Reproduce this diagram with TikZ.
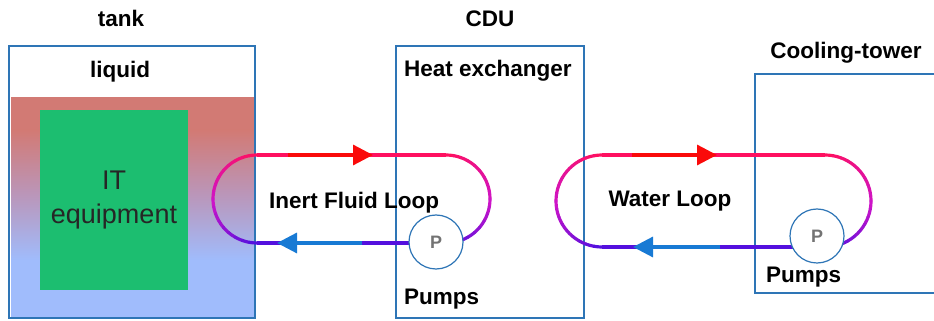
\documentclass[tikz,border=0pt]{standalone}
\usepackage{fontspec}
\setmainfont{Liberation Sans}
\usepackage{tikz}
\usetikzlibrary{calc}
\usetikzlibrary{positioning}
\usetikzlibrary{arrows.meta}

\definecolor{boxblue}{RGB}{46,117,182}
\definecolor{tankred}{RGB}{210,122,116}
\definecolor{tankmid}{RGB}{186,150,186}
\definecolor{tankblue}{RGB}{160,188,252}
\definecolor{itgreen}{RGB}{28,190,112}
\definecolor{looptop}{RGB}{255,16,96}
\definecolor{loopmid}{RGB}{205,20,200}
\definecolor{loopbot}{RGB}{84,16,222}
\definecolor{arrred}{RGB}{250,10,10}
\definecolor{arrblue}{RGB}{24,122,212}

\tikzset{
    unitbox/.style={rectangle, draw=boxblue, line width=2pt, inner sep=0pt},
    lbl/.style={font=\fontsize{22.5}{27}\selectfont\bfseries, inner sep=0pt},
    pipe/.style={line width=3.2pt},
    pump/.style={circle, draw=boxblue, line width=1.2pt, fill=white, minimum size=54pt, inner sep=0pt, font=\fontsize{18}{18}\selectfont\bfseries, text=black!55},
    flowtip/.style={-{Triangle[length=20pt,width=20pt]}}
}

\begin{document}
\begin{tikzpicture}[x=1pt, y=1pt]
    \useasboundingbox (0,0) rectangle (934,321);

    % tank with liquid
    \fill[tankred] (11,191) rectangle (254,224);
    \shade[top color=tankred, bottom color=tankblue, middle color=tankmid] (11,61) rectangle (254,191);
    \fill[tankblue] (11,4) rectangle (254,61);
    \node[fill=itgreen, minimum width=148pt, minimum height=180pt, inner sep=0pt] (itbox) at (114,121) {};
    \node[align=center, font=\fontsize{27}{34}\selectfont, text=black!85, inner sep=0pt] (itlbl) at (itbox.center) {IT\\equipment};
    \node[unitbox, minimum width=246pt, minimum height=272pt] (tank) at (132,139) {};
    \node[lbl, anchor=base] (tanklbl) at (121,294) {tank};
    \node[lbl, anchor=base] (liquidlbl) at (120,243) {liquid};

    % CDU
    \node[unitbox, minimum width=188pt, minimum height=272pt] (cdu) at (490,139) {};
    \node[lbl, anchor=base] (cdulbl) at (490,294) {CDU};
    \node[lbl, anchor=base west] (hexlbl) at (404,244) {Heat exchanger};
    \node[lbl, anchor=base west] (pumpslblA) at (404,16) {Pumps};

    % cooling tower, cut at the right edge
    \draw[draw=boxblue, line width=2pt] (934,247) -- (755,247) -- (755,28) -- (934,28);
    \node[lbl, anchor=base] (towerlbl) at (846,262) {Cooling-tower};
    \node[lbl, anchor=base west] (pumpslblB) at (766,38) {Pumps};

    % inert fluid loop
    \coordinate (LA) at (257,122);
    \coordinate (RA) at (446,122);
    \foreach \i in {0,...,17}{
        \ifnum\i<9
            \pgfmathtruncatemacro\pc{100*\i/9}
            \edef\segc{loopmid!\pc!looptop}
        \else
            \pgfmathtruncatemacro\pc{100*(\i-9)/8}
            \edef\segc{loopbot!\pc!loopmid}
        \fi
        \draw[pipe, line cap=round, draw=\segc] ($(LA)+(90+10*\i:44)$) arc[start angle=90+10*\i, delta angle=10, radius=44];
        \draw[pipe, line cap=round, draw=\segc] ($(RA)+(90-10*\i:44)$) arc[start angle=90-10*\i, delta angle=-10, radius=44];
    }
    \draw[pipe, draw=looptop] ($(LA)+(0,44)$) -- ($(RA)+(0,44)$);
    \draw[pipe, draw=loopbot] ($(LA)+(0,-44)$) -- ($(RA)+(0,-44)$);
    \coordinate (redAs) at (288,166);
    \coordinate (redAt) at (373,166);
    \coordinate (blueAs) at (362,78);
    \coordinate (blueAt) at (277,78);
    \draw[pipe, flowtip, draw=arrred, fill=arrred] (redAs) -- (redAt);
    \draw[pipe, flowtip, draw=arrblue, fill=arrblue] (blueAs) -- (blueAt);
    \node[pump] (pumpA) at (436,79) {P};
    \node[lbl, anchor=base] (inertlbl) at (354,112) {Inert Fluid Loop};

    % water loop
    \coordinate (LB) at (602,120);
    \coordinate (RB) at (825,120);
    \foreach \i in {0,...,17}{
        \ifnum\i<9
            \pgfmathtruncatemacro\pc{100*\i/9}
            \edef\segc{loopmid!\pc!looptop}
        \else
            \pgfmathtruncatemacro\pc{100*(\i-9)/8}
            \edef\segc{loopbot!\pc!loopmid}
        \fi
        \draw[pipe, line cap=round, draw=\segc] ($(LB)+(90+10*\i:46)$) arc[start angle=90+10*\i, delta angle=10, radius=46];
        \draw[pipe, line cap=round, draw=\segc] ($(RB)+(90-10*\i:46)$) arc[start angle=90-10*\i, delta angle=-10, radius=46];
    }
    \draw[pipe, draw=looptop] ($(LB)+(0,46)$) -- ($(RB)+(0,46)$);
    \draw[pipe, draw=loopbot] ($(LB)+(0,-46)$) -- ($(RB)+(0,-46)$);
    \coordinate (redBs) at (632,166);
    \coordinate (redBt) at (717,166);
    \coordinate (blueBs) at (720,74);
    \coordinate (blueBt) at (633,74);
    \draw[pipe, flowtip, draw=arrred, fill=arrred] (redBs) -- (redBt);
    \draw[pipe, flowtip, draw=arrblue, fill=arrblue] (blueBs) -- (blueBt);
    \node[pump] (pumpB) at (817,85) {P};
    \node[lbl, anchor=base] (waterlbl) at (670,114) {Water Loop};
\end{tikzpicture}
\end{document}
